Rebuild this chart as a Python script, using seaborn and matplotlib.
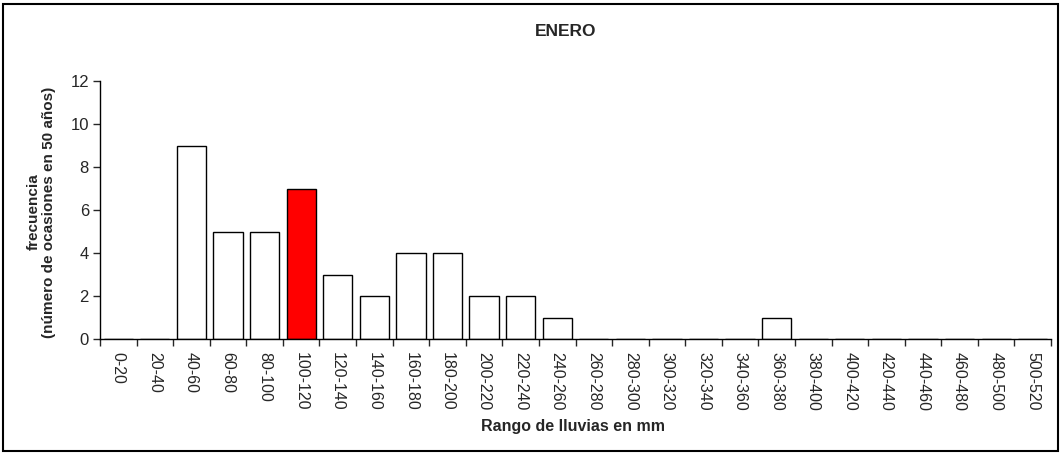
import matplotlib
matplotlib.use("Agg")
import matplotlib.pyplot as plt
import seaborn as sns
import pandas as pd
from matplotlib.patches import Rectangle

# Data
rangos = ["0-20", "20-40", "40-60", "60-80", "80-100", "100-120", "120-140",
          "140-160", "160-180", "180-200", "200-220", "220-240", "240-260",
          "260-280", "280-300", "300-320", "320-340", "340-360", "360-380",
          "380-400", "400-420", "420-440", "440-460", "460-480", "480-500",
          "500-520"]
frecuencia = [0, 0, 9, 5, 5, 7, 3, 2, 4, 4, 2, 2, 1,
              0, 0, 0, 0, 0, 1, 0, 0, 0, 0, 0, 0, 0]
resaltado = "100-120"

df = pd.DataFrame({"rango": rangos, "frecuencia": frecuencia})
colores = {r: ("#ff0000" if r == resaltado else "white") for r in rangos}

sns.set_style("white")
plt.rcParams['font.family'] = ['Liberation Sans', 'DejaVu Sans']

fig = plt.figure(figsize=(10.63, 4.55), dpi=100)
ax = fig.add_axes([100 / 1063, 1 - 339 / 455, 951 / 1063, 258 / 455])

sns.barplot(data=df, x="rango", y="frecuencia", hue="rango", palette=colores,
            legend=False, width=0.8, edgecolor="black", linewidth=1,
            saturation=1, ax=ax)

ax.set_xlim(-0.5, len(rangos) - 0.5)
ax.set_ylim(0, 12)
ax.set_yticks(range(0, 13, 2))
ax.tick_params(axis="y", labelsize=12, length=5, width=1, direction="out",
               left=True, pad=3)

# ticks at the boundaries between categories, labels at the centres
ax.set_xticks(range(len(rangos)))
ax.set_xticklabels(rangos, rotation=270, fontsize=11.5)
ax.set_xticks([i - 0.5 for i in range(len(rangos) + 1)], minor=True)
ax.tick_params(axis="x", which="major", length=0, pad=9)
ax.tick_params(axis="x", which="minor", length=5, width=1, direction="out",
               bottom=True)

for s in ["top", "right"]:
    ax.spines[s].set_visible(False)
for s in ["left", "bottom"]:
    ax.spines[s].set_color("black")
    ax.spines[s].set_linewidth(1)

ax.set_xlabel("")
ax.set_ylabel("")
fig.text(566 / 1063, 1 - 31 / 455, "ENERO", ha="center", va="center",
         fontsize=12.5, fontweight="bold")
fig.text(573 / 1063, 1 - 426 / 455, "Rango de lluvias en mm", ha="center",
         va="center", fontsize=11.5, fontweight="bold")
fig.text(41 / 1063, 1 - 212 / 455, "frecuencia\n(número de ocasiones en 50 años)",
         ha="center", va="center", rotation=90, fontsize=11,
         fontweight="bold", linespacing=1.1)

# outer frame
fig.patches.append(Rectangle((3 / 1063, 4 / 455), 1055 / 1063, 447 / 455,
                             transform=fig.transFigure, fill=False,
                             edgecolor="black", linewidth=1.5))

fig.savefig("out.png", dpi=100)
